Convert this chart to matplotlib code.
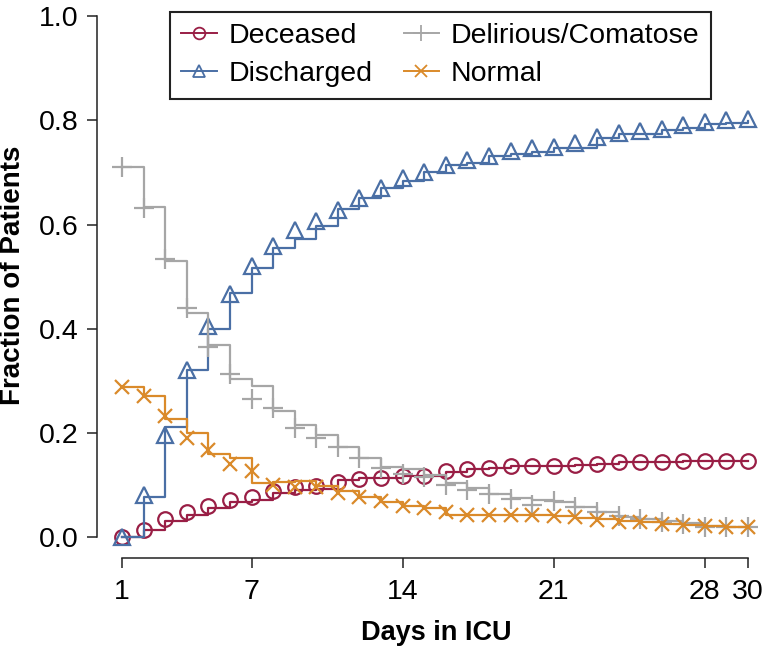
import matplotlib.pyplot as plt
from matplotlib.lines import Line2D

plt.rcParams['font.family'] = ['Liberation Sans', 'DejaVu Sans']

days = list(range(1, 31))
x_ticks = [1, 7, 14, 21, 28, 30]
y_ticks = [0.0, 0.2, 0.4, 0.6, 0.8, 1.0]

# step lines (observed) and point markers, read per day off the figure
deceased_line = [0.0, 0.013, 0.031, 0.042, 0.055, 0.068, 0.072, 0.084, 0.091, 0.093,
                 0.110, 0.113, 0.114, 0.117, 0.118, 0.125, 0.131, 0.133, 0.136, 0.136,
                 0.137, 0.138, 0.140, 0.144, 0.144, 0.145, 0.146, 0.147, 0.147, 0.147]
deceased_pts = [0.0, 0.013, 0.034, 0.048, 0.059, 0.072, 0.078, 0.089, 0.096, 0.098,
                0.106, 0.112, 0.114, 0.117, 0.118, 0.127, 0.131, 0.133, 0.136, 0.136,
                0.137, 0.138, 0.140, 0.144, 0.144, 0.145, 0.146, 0.147, 0.147, 0.147]

discharged_line = [0.0, 0.078, 0.212, 0.320, 0.400, 0.469, 0.517, 0.555, 0.572, 0.597,
                   0.630, 0.651, 0.670, 0.683, 0.700, 0.714, 0.718, 0.731, 0.735, 0.740,
                   0.747, 0.747, 0.766, 0.773, 0.774, 0.781, 0.785, 0.793, 0.795, 0.798]
discharged_pts = [0.0, 0.080, 0.197, 0.320, 0.405, 0.467, 0.520, 0.559, 0.590, 0.607,
                  0.628, 0.650, 0.670, 0.689, 0.700, 0.714, 0.723, 0.731, 0.742, 0.746,
                  0.748, 0.756, 0.768, 0.776, 0.780, 0.783, 0.790, 0.797, 0.800, 0.802]

delirious_line = [0.710, 0.634, 0.530, 0.430, 0.369, 0.304, 0.291, 0.243, 0.216, 0.197,
                  0.173, 0.151, 0.134, 0.130, 0.119, 0.103, 0.094, 0.082, 0.076, 0.071,
                  0.068, 0.058, 0.048, 0.038, 0.034, 0.031, 0.027, 0.022, 0.020, 0.019]
delirious_pts = [0.711, 0.632, 0.534, 0.440, 0.364, 0.314, 0.266, 0.247, 0.209, 0.190,
                 0.173, 0.151, 0.132, 0.122, 0.115, 0.100, 0.090, 0.082, 0.073, 0.061,
                 0.069, 0.057, 0.048, 0.040, 0.034, 0.030, 0.026, 0.020, 0.019, 0.019]

normal_line = [0.289, 0.270, 0.226, 0.200, 0.160, 0.152, 0.104, 0.106, 0.108, 0.098,
               0.089, 0.077, 0.068, 0.059, 0.055, 0.042, 0.042, 0.042, 0.042, 0.042,
               0.040, 0.036, 0.034, 0.031, 0.029, 0.026, 0.023, 0.021, 0.020, 0.020]
normal_pts = [0.289, 0.270, 0.233, 0.191, 0.168, 0.141, 0.127, 0.100, 0.096, 0.096,
              0.084, 0.077, 0.070, 0.060, 0.055, 0.048, 0.042, 0.042, 0.042, 0.042,
              0.040, 0.038, 0.033, 0.030, 0.029, 0.026, 0.023, 0.021, 0.020, 0.020]

series = [
    ('Deceased', deceased_line, deceased_pts, '#991E45', 'o', 10.5),
    ('Discharged', discharged_line, discharged_pts, '#4A6FA5', '^', 11.5),
    ('Delirious/Comatose', delirious_line, delirious_pts, '#A6A6A6', '+', 14),
    ('Normal', normal_line, normal_pts, '#DA8A2A', 'x', 10),
]

fig = plt.figure(figsize=(7.64, 6.46), dpi=100)
ax = fig.add_axes([97 / 764, 1 - 558 / 646, 667 / 764, 556 / 646])

handles = []
for label, line, pts, color, mk, ms in series:
    ax.step(days, line, where='post', color=color, lw=1.6)
    ax.plot(days, pts, ls='none', marker=mk, ms=ms, mew=1.6,
            mfc='none', mec=color)
    handles.append(Line2D([], [], color=color, lw=1.4, marker=mk, ms=ms * 0.8,
                          mew=1.3, mfc='none', mec=color, label=label))

ax.set_xlim(-0.16, 30.74)
ax.set_ylim(-0.04, 1.027)
ax.set_xticks(x_ticks)
ax.set_yticks(y_ticks)
ax.set_yticklabels([f'{v:.1f}' for v in y_ticks])
ax.tick_params(axis='both', labelsize=20.5, length=7, width=1.1, color='#222222')
ax.tick_params(axis='x', pad=8)
ax.tick_params(axis='y', pad=6)

for side in ['top', 'right']:
    ax.spines[side].set_visible(False)
ax.spines['left'].set_bounds(0, 1)
ax.spines['bottom'].set_bounds(1, 30)
for side in ['left', 'bottom']:
    ax.spines[side].set_linewidth(1.1)
    ax.spines[side].set_color('#222222')

ax.set_xlabel('Days in ICU', fontsize=19.5, fontweight='bold')
ax.set_ylabel('Fraction of Patients', fontsize=20, fontweight='bold')
ax.xaxis.set_label_coords(0.508, -0.112)
ax.yaxis.set_label_coords(-0.107, 0.509)

leg = ax.legend(handles=handles, ncol=2, loc='upper left',
                bbox_to_anchor=(170 / 764, 1 - 12 / 646),
                bbox_transform=fig.transFigure, borderaxespad=0,
                fontsize=20.5, frameon=True, fancybox=False, framealpha=1,
                edgecolor='#222222', handlelength=1.25, handletextpad=0.4,
                columnspacing=1.1, labelspacing=0.42, borderpad=0.4)
leg.get_frame().set_linewidth(1.5)

fig.savefig('out.png', dpi=100)
